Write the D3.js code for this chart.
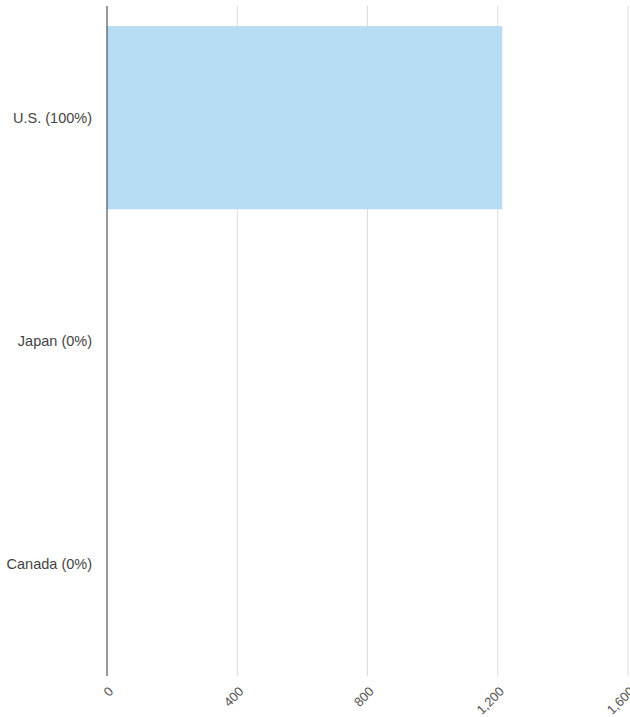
<!DOCTYPE html>
<html><head><meta charset="utf-8">
<script src="https://cdn.jsdelivr.net/npm/d3@7"></script>
<style>body{margin:0;background:#fff}svg{display:block}text{font-family:"Liberation Sans",Arial,sans-serif}</style>
</head><body><svg id="c" width="630" height="717"></svg>
<script>
const categories = ["U.S. (100%)", "Japan (0%)", "Canada (0%)"];
const values = [1214, 0, 0];
const xTicks = [0, 400, 800, 1200, 1600];

const svg = d3.select("#c");
const m = {left:107, right:2, top:6, bottom:41};
const W = 630, H = 717;
const x = d3.scaleLinear().domain([0,1600]).range([m.left, 628]);
const y = d3.scaleBand().domain(categories).range([m.top, H - m.bottom]).paddingInner(0.18).paddingOuter(0.09);

// gridlines
svg.append("g").selectAll("line").data(xTicks.filter(d=>d>0)).join("line")
  .attr("x1", d=>x(d)).attr("x2", d=>x(d)).attr("y1", m.top).attr("y2", H-m.bottom)
  .attr("stroke", "#dcdcdc").attr("stroke-width", 1);

// bars
svg.append("g").selectAll("rect").data(values).join("rect")
  .attr("x", x(0)).attr("y", (d,i)=>y(categories[i]))
  .attr("width", d=>x(d)-x(0)).attr("height", y.bandwidth())
  .attr("fill", "#b8dcf4");

// axis line
svg.append("line").attr("x1", x(0)).attr("x2", x(0)).attr("y1", m.top).attr("y2", H-m.bottom)
  .attr("stroke", "#333").attr("stroke-width", 1);

// category labels
svg.append("g").selectAll("text").data(categories).join("text")
  .attr("x", x(0)-15).attr("y", d=>y(d)+y.bandwidth()/2).attr("dy","0.35em")
  .attr("text-anchor","end").attr("font-size", 14.5).attr("fill","#444").text(d=>d);

// x tick labels
const fmt = d3.format(",");
svg.append("g").selectAll("text").data(xTicks).join("text")
  .attr("transform", d=>`translate(${x(d)+4},${H-m.bottom+13}) rotate(-45)`)
  .attr("text-anchor","end").attr("dy","0.35em").attr("font-size", 13).attr("fill","#555")
  .text(d=>fmt(d));
</script></body></html>
